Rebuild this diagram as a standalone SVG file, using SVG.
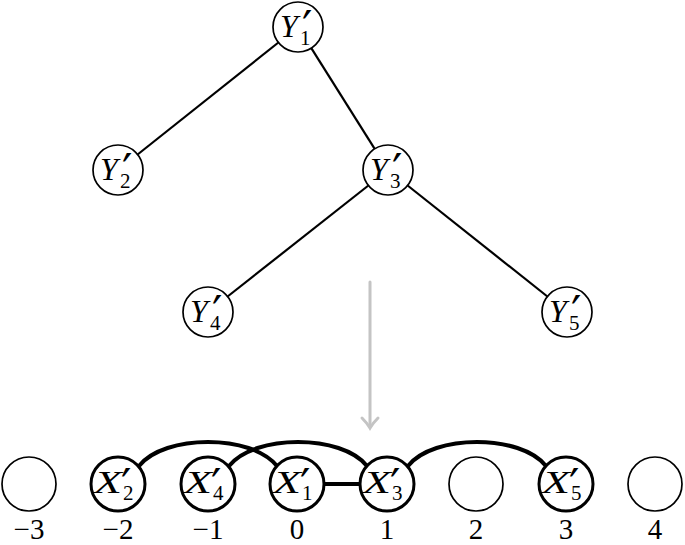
<svg xmlns="http://www.w3.org/2000/svg" width="685" height="545" viewBox="0 0 685 545">
<style>
.tn{fill:#fff;stroke:#000;stroke-width:1.7}
.xn{fill:#fff;stroke:#000;stroke-width:3}
.en{fill:#fff;stroke:#000;stroke-width:1.7}
.v{font-family:"Liberation Serif","DejaVu Serif",serif;font-style:italic;font-size:32px;fill:#000}
.s{font-style:normal;font-size:21px}
.p{font-family:"DejaVu Sans","Liberation Sans",sans-serif;font-style:normal;font-size:46px}
.n{font-family:"Liberation Serif","DejaVu Serif",serif;font-size:29px;fill:#000;text-anchor:middle}
.te{stroke:#000;stroke-width:2.2;fill:none}
.arc{stroke:#000;stroke-width:4;fill:none}
.gr{stroke:#c4c4c4;stroke-width:3;fill:none;stroke-linecap:round}
</style>
<g id="connectors">
<line class="te" x1="278.4" y1="42.5" x2="137.6" y2="154.5"/>
<line class="te" x1="311.3" y1="48.2" x2="374.7" y2="148.8"/>
<line class="te" x1="368.4" y1="185.5" x2="227.6" y2="296.5"/>
<line class="te" x1="407.6" y1="185.5" x2="547.4" y2="296.5"/>
<path class="arc" d="M139,466 C164,434 252,434 277,466"/>
<path class="arc" d="M229,466 C254,434 342,434 367,466"/>
<path class="arc" d="M408,466 C433,434 521,434 546,466"/>
<line class="arc" x1="324" y1="484" x2="361" y2="484"/>
<line class="gr" x1="370" y1="282" x2="370" y2="427"/>
<path class="gr" d="M362,418 Q367,423 370,428 Q373,423 378,418"/>
</g>
<g id="Y1"><circle class="tn" cx="298" cy="27" r="25"/><text class="v" x="280" y="37">Y<tspan class="p" x="302" y="44">′</tspan><tspan class="s" x="300" y="45">1</tspan></text></g>
<g id="Y2"><circle class="tn" cx="118" cy="170" r="25"/><text class="v" x="100" y="180">Y<tspan class="p" x="122" y="187">′</tspan><tspan class="s" x="120" y="188">2</tspan></text></g>
<g id="Y3"><circle class="tn" cx="388" cy="170" r="25"/><text class="v" x="370" y="180">Y<tspan class="p" x="392" y="187">′</tspan><tspan class="s" x="390" y="188">3</tspan></text></g>
<g id="Y4"><circle class="tn" cx="208" cy="312" r="25"/><text class="v" x="190" y="322">Y<tspan class="p" x="212" y="329">′</tspan><tspan class="s" x="210" y="330">4</tspan></text></g>
<g id="Y5"><circle class="tn" cx="567" cy="312" r="25"/><text class="v" x="549" y="322">Y<tspan class="p" x="571" y="329">′</tspan><tspan class="s" x="569" y="330">5</tspan></text></g>
<g id="pm3"><circle class="en" cx="29" cy="484" r="27"/><text class="n" x="29" y="539">−3</text></g>
<g id="X2"><circle class="xn" cx="118" cy="484" r="27"/><text class="v" x="94" y="493"><tspan textLength="28" lengthAdjust="spacingAndGlyphs">X</tspan><tspan class="p" x="121" y="502">′</tspan><tspan class="s" x="123" y="500">2</tspan></text><text class="n" x="118" y="539">−2</text></g>
<g id="X4"><circle class="xn" cx="208" cy="484" r="27"/><text class="v" x="184" y="493"><tspan textLength="28" lengthAdjust="spacingAndGlyphs">X</tspan><tspan class="p" x="211" y="502">′</tspan><tspan class="s" x="213" y="500">4</tspan></text><text class="n" x="208" y="539">−1</text></g>
<g id="X1"><circle class="xn" cx="297" cy="484" r="27"/><text class="v" x="273" y="493"><tspan textLength="28" lengthAdjust="spacingAndGlyphs">X</tspan><tspan class="p" x="300" y="502">′</tspan><tspan class="s" x="302" y="500">1</tspan></text><text class="n" x="297" y="539">0</text></g>
<g id="X3"><circle class="xn" cx="387" cy="484" r="27"/><text class="v" x="363" y="493"><tspan textLength="28" lengthAdjust="spacingAndGlyphs">X</tspan><tspan class="p" x="390" y="502">′</tspan><tspan class="s" x="392" y="500">3</tspan></text><text class="n" x="387" y="539">1</text></g>
<g id="p2"><circle class="en" cx="476" cy="484" r="27"/><text class="n" x="476" y="539">2</text></g>
<g id="X5"><circle class="xn" cx="566" cy="484" r="27"/><text class="v" x="542" y="493"><tspan textLength="28" lengthAdjust="spacingAndGlyphs">X</tspan><tspan class="p" x="569" y="502">′</tspan><tspan class="s" x="571" y="500">5</tspan></text><text class="n" x="566" y="539">3</text></g>
<g id="p4"><circle class="en" cx="655" cy="484" r="27"/><text class="n" x="655" y="539">4</text></g>
</svg>
